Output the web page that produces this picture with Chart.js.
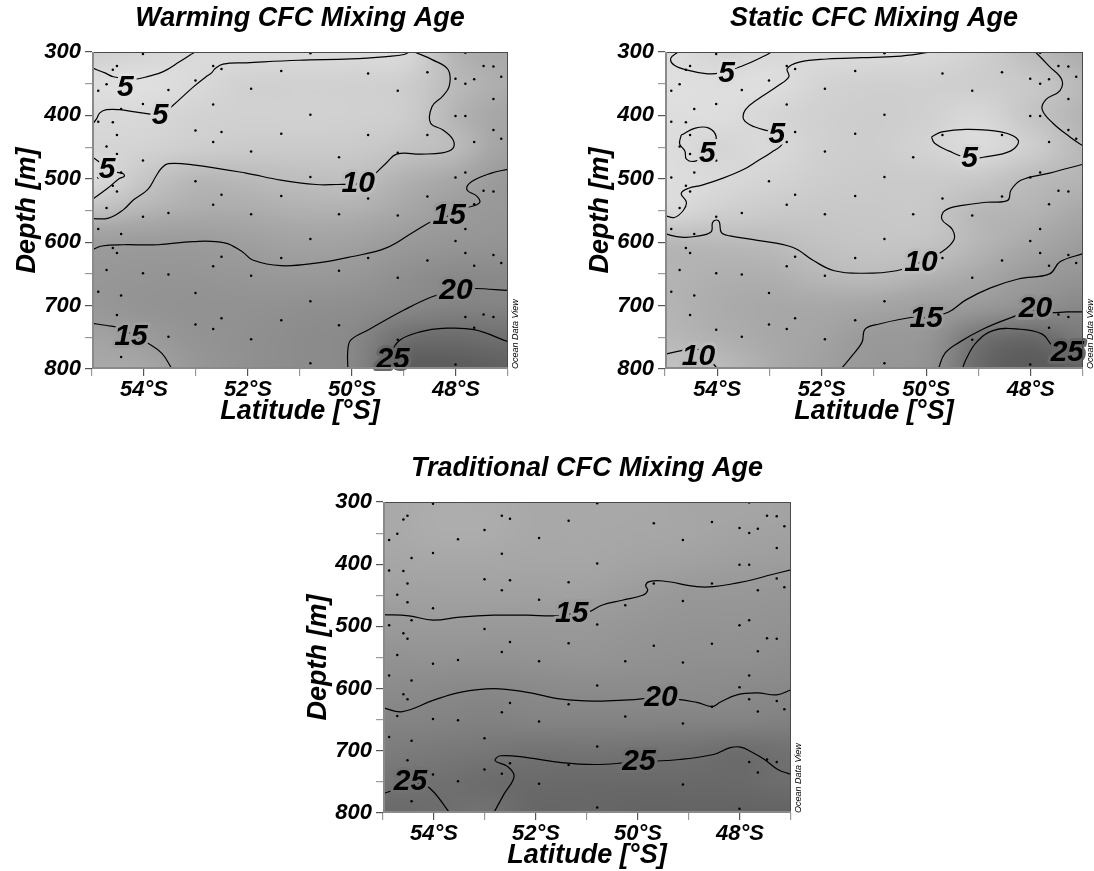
<!DOCTYPE html>
<html><head><meta charset="utf-8">
<script src="https://cdn.jsdelivr.net/npm/chart.js@4.4.1/dist/chart.umd.min.js"></script>
<style>
html,body{margin:0;padding:0;background:#fff;overflow:hidden;width:1094px;height:871px;}
.panel{position:absolute;}
canvas{display:block;}
</style></head><body>
<div class="panel" style="left:0px;top:0px;"><canvas id="c1" width="547" height="435"></canvas></div>
<div class="panel" style="left:573px;top:0px;"><canvas id="c2" width="521" height="435"></canvas></div>
<div class="panel" style="left:291px;top:450px;"><canvas id="c3" width="530" height="429"></canvas></div>
<script>
// ---------- axes ----------
const latTicks = [47, 48, 49, 50, 51, 52, 53, 54, 55];
const depthTicks = [300, 350, 400, 450, 500, 550, 600, 650, 700, 750, 800];

// ---------- shading grid nodes (lat 55..47, depth 300..800) ----------
const gridLat = [55, 54, 53, 52, 51, 50, 49, 48, 47];
const gridDepth = [300, 350, 400, 450, 500, 550, 600, 650, 700, 750, 800];

const warmingAge = [
  [6.5, 5.6, 4.6, 4.5, 4.5, 4.6, 4.9, 11.0, 12.5],
  [4.0, 3.6, 4.8, 6.3, 6.3, 6.4, 7.0, 10.3, 12.0],
  [4.8, 5.0, 6.0, 6.4, 6.3, 6.5, 7.2, 11.0, 13.0],
  [5.5, 6.0, 7.0, 7.5, 7.5, 7.6, 8.8, 10.3, 13.5],
  [4.5, 8.3, 10.5, 10.3, 9.7, 9.6, 11.3, 12.8, 15.5],
  [9.5, 11.0, 12.0, 12.0, 11.5, 11.5, 12.8, 14.9, 16.0],
  [14.5, 14.9, 15.0, 14.2, 13.5, 13.8, 15.3, 16.5, 17.0],
  [16.0, 16.5, 16.5, 16.0, 15.5, 16.0, 18.0, 19.4, 19.4],
  [16.0, 17.0, 17.5, 17.5, 18.0, 18.5, 19.8, 21.0, 21.0],
  [13.5, 15.0, 17.0, 18.0, 19.0, 20.0, 24.8, 25.5, 24.8],
  [12.5, 12.8, 16.0, 18.0, 19.0, 20.3, 28.0, 28.5, 27.5]
];
const staticAge = [
  [3.8, 5.6, 5.0, 4.5, 4.6, 4.8, 6.5, 9.8, 12.0],
  [3.5, 4.0, 3.8, 5.8, 6.5, 6.5, 7.0, 8.0, 10.5],
  [4.0, 4.0, 5.3, 6.5, 7.0, 6.5, 5.2, 8.5, 11.0],
  [4.0, 5.5, 4.8, 6.5, 7.0, 6.0, 4.5, 7.0, 10.5],
  [4.0, 4.8, 5.8, 7.0, 7.5, 7.5, 8.0, 10.0, 11.0],
  [4.7, 6.5, 7.5, 8.0, 8.0, 8.0, 10.5, 11.0, 12.5],
  [10.5, 10.3, 10.0, 9.0, 8.5, 8.8, 10.8, 12.5, 14.5],
  [11.0, 11.5, 11.5, 10.5, 10.0, 11.0, 12.5, 14.9, 16.5],
  [11.0, 12.0, 12.5, 12.5, 13.0, 14.0, 15.5, 18.0, 20.0],
  [10.5, 11.5, 12.5, 13.5, 15.5, 16.5, 24.0, 26.0, 23.0],
  [9.0, 10.0, 12.0, 14.0, 16.0, 17.5, 26.0, 29.0, 27.0]
];
const traditionalAge = [
  [12.5, 12.0, 12.0, 12.5, 12.5, 12.5, 13.0, 13.0, 13.5],
  [12.5, 12.0, 12.0, 12.5, 12.5, 12.8, 13.0, 13.5, 13.8],
  [13.0, 12.8, 12.8, 13.0, 13.0, 13.5, 14.0, 14.5, 14.8],
  [14.0, 14.0, 14.0, 14.0, 14.0, 15.0, 16.0, 16.0, 16.5],
  [15.5, 15.3, 15.5, 15.6, 15.7, 16.5, 17.0, 17.0, 17.5],
  [17.5, 17.3, 17.5, 17.3, 17.0, 17.5, 18.0, 18.0, 18.5],
  [19.2, 19.6, 20.0, 19.6, 19.2, 19.2, 19.2, 19.5, 20.0],
  [21.0, 21.0, 21.5, 21.0, 21.0, 21.0, 21.0, 21.0, 21.5],
  [22.5, 23.0, 23.5, 24.2, 24.0, 24.3, 24.5, 25.3, 24.5],
  [24.2, 24.6, 25.5, 25.8, 26.0, 26.0, 26.0, 26.0, 25.2],
  [26.0, 25.5, 24.5, 26.5, 26.5, 27.0, 27.0, 27.0, 27.0]
];

// ---------- sample stations ----------
const stationLat = [54.02,54.52,54.60,54.72,54.88,54.02,54.44,53.53,53.01,52.67,52.51,52.67,51.94,51.36,50.80,50.80,49.69,49.12,48.55,48.01,47.82,47.82,47.65,47.47,47.28,47.13,47.28,48.01,47.82,
  54.88,54.60,54.52,54.72,54.52,54.02,54.44,54.88,54.60,54.52,54.72,54.02,53.53,53.01,52.51,52.67,53.01,52.51,52.67,51.94,51.94,51.36,51.36,50.80,50.25,49.69,49.12,49.69,50.25,49.12,48.55,48.01,47.82,47.65,47.28,47.13,47.47,47.28,47.65,
  47.82,48.01,47.82,47.28,47.13,47.65,54.88,54.44,54.60,54.52,54.72,54.02,53.53,53.01,52.67,52.51,51.94,51.36,50.80,50.25,49.12,49.69,
  54.88,54.44,54.52,54.02,53.53,54.44,53.01,52.67,52.51,51.94,51.36,50.80,50.25,50.80,49.12,48.01,47.82,47.65,47.47,47.28,48.55,48.55];
const stationDepth = [303,322,328,351,361,382,390,360,345,322,327,383,358,330,302,399,334,361,332,342,301,350,343,322,323,339,374,401,401,
  410,411,431,449,461,471,490,498,511,520,546,560,554,424,426,442,504,525,541,457,556,429,527,497,466,431,459,531,556,558,528,498,490,442,423,437,519,520,540,
  579,598,617,620,633,637,579,587,609,617,644,649,651,680,638,623,653,625,595,645,656,625,
  678,684,715,738,749,781,730,737,720,753,723,693,731,791,754,793,718,735,714,718,431,629];

// ---------- contour lines [lat, depth] ----------
const warm5a = [[55,325],[54.75,333],[54.59,339],[54.21,343],[53.9,338],[53.63,331],[53.31,315],[53.1,304],[53.02,300]];
const warm5b = [[55,415],[54.91,405],[54.85,396],[54.72,391],[54.46,391],[54.21,394],[53.88,398],[53.69,400],[53.44,384],[53.05,355],[52.79,338],[52.7,333],[52.63,326],[52.48,319],[52.03,317],[51.03,313],[50.02,311],[49.3,307],[49.0,304],[48.9,300]];
const warm5c = [[55,465],[54.85,474],[54.7,484],[54.55,489],[54.4,492],[54.38,496],[54.48,500],[54.7,515],[55,533]];
const warm10 = [[48.8,300],[48.46,312],[48.15,328],[48.13,354],[48.26,370],[48.46,386],[48.49,412],[48.25,423],[48.06,438],[48.06,452],[48.26,459],[48.67,461],[49.14,461],[49.34,475],[49.58,494],[49.75,505],[49.88,508],[50.29,509],[50.69,509],[51.37,502],[52.04,491],[53.06,478],[53.53,476],[53.66,483],[53.77,496],[53.93,517],[54.2,533],[54.4,549],[54.68,562],[55,563]];
const warm15a = [[55,612],[54.81,606],[54.41,604],[53.73,604],[53.06,599],[52.45,601],[52.11,615],[51.91,628],[51.37,637],[50.69,633],[50.02,623],[49.34,609],[48.8,583],[48.46,567],[48.13,558],[47.79,546],[47.55,538],[47.59,528],[47.79,517],[47.69,504],[47.32,491],[47,485]];
const warm15b = [[55,728],[54.74,731],[54.41,736],[54.24,745],[53.93,759],[53.66,775],[53.46,800]];
const warm20 = [[50.08,800],[50.08,770],[50.02,754],[49.68,738],[49.0,707],[48.46,686],[47.99,675],[47.65,673],[47,676]];
const warm25 = [[49.5,800],[49.27,775],[49.07,754],[48.67,741],[48.26,736],[47.65,738],[47,757]];

const stat5a = [[54.75,300],[54.89,310],[54.82,321],[54.55,329],[54.22,334],[53.95,333],[53.49,321],[53.09,306],[52.96,300]];
const stat5b = [[49.9,300],[50.57,307],[51.23,309],[51.9,311],[52.43,316],[52.66,326],[52.63,339],[52.83,353],[53.23,375],[53.46,391],[53.49,407],[53.29,418],[52.96,426],[52.86,430],[52.76,445],[52.96,458],[53.23,472],[53.49,485],[53.89,499],[54.29,510],[54.55,515],[54.69,523],[54.59,537],[54.65,550],[54.82,561],[55,558]];
const stat5c = [[54.69,431],[54.42,420],[54.16,420],[54.02,434],[54.1,450],[54.19,460],[54.42,472],[54.59,469],[54.62,456],[54.72,445],[54.69,431]];
const stat5d = [[49.9,434],[49.7,426],[49.24,422],[48.57,426],[48.24,439],[48.38,456],[48.91,466],[49.17,468],[49.57,456],[49.84,444],[49.9,434]];
const stat10a = [[47.91,300],[47.64,323],[47.41,343],[47.44,361],[47.71,375],[47.78,391],[47.58,412],[47.25,434],[47,448]];
const stat10b = [[55,587],[54.69,592],[54.42,591],[54.12,584],[54.09,569],[54.02,565],[53.96,568],[53.92,585],[53.76,590],[53.23,597],[52.56,608],[52.16,629],[51.76,645],[51.23,649],[50.57,645],[50.1,631],[49.7,615],[49.47,596],[49.5,580],[49.7,564],[49.64,550],[49.31,542],[48.84,537],[48.44,534],[48.38,518],[48.18,502],[47.64,491],[47,477]];
const stat10c = [[55,777],[54.69,771],[54.42,768],[54.25,776],[54.16,784],[53.99,800]];
const stat15 = [[51.63,800],[51.43,780],[51.23,758],[51.17,737],[50.9,729],[50.24,718],[50.0,719],[49.57,710],[49.24,691],[48.77,672],[48.24,658],[47.64,650],[47.44,631],[47,618]];
const stat20 = [[49.77,800],[49.64,775],[49.37,758],[48.91,737],[48.44,721],[47.91,707],[47.64,711],[47.31,710],[47,710]];
const stat25 = [[49.31,800],[49.24,785],[49.04,758],[48.71,739],[48.24,737],[47.78,745],[47.58,764],[47.4,772]];

const trad15 = [[55,481],[54.49,483],[54.02,490],[53.49,485],[52.83,482],[52.17,482],[51.64,483],[51.3,480],[50.97,477],[50.71,466],[50.31,458],[49.91,450],[49.81,442],[49.85,434],[49.78,428],[49.51,427],[48.85,436],[48.52,436],[47.86,427],[47.39,417],[47,409]];
const trad20 = [[55,631],[54.62,637],[54.02,619],[53.49,606],[52.83,600],[52.17,606],[51.5,617],[50.84,620],[50.18,618],[49.55,615],[48.85,622],[48.55,629],[48.39,622],[48.06,610],[47.66,607],[47.28,610],[47,602]];
const trad25a = [[52.83,800],[52.63,770],[52.43,741],[52.56,725],[52.8,716],[52.7,708],[52.17,711],[51.5,719],[50.84,722],[50.18,719],[49.98,718],[49.18,714],[48.52,706],[48.19,695],[47.99,694],[47.79,701],[47.52,714],[47.26,730],[47,738]];
const trad25b = [[55,769],[54.69,760],[54.46,752],[54.22,754],[54.02,765],[53.69,800]];

// ---------- contour labels [lat, depth, text] ----------
const warmLabels = [[54.36,356,'5'],[53.69,401,'5'],[54.71,485,'5'],[49.88,508,'10'],[48.13,558,'15'],[54.25,749,'15'],[48.0,676,'20'],[49.21,786,'25']];
const statLabels = [[53.82,334,'5'],[54.19,460,'5'],[52.86,430,'5'],[49.17,469,'5'],[50.1,632,'10'],[54.36,780,'10'],[50.0,720,'15'],[47.91,705,'20'],[47.3,775,'25']];
const tradLabels = [[51.3,480,'15'],[49.55,614,'20'],[49.98,717,'25'],[54.46,749,'25']];

// ---------- gray colour ramp: [age, gray level] ----------
const shadeStops = [[0,236],[3,226],[5,216],[8,200],[10,188],[12.5,168],[15,155],[17.5,146],[20,136],[22.5,124],[25,111],[28,94],[30,88]];

const FONT = "'Liberation Sans', Arial, sans-serif";

function grayOf(v){
  if (v <= shadeStops[0][0]) return shadeStops[0][1];
  for (let k = 1; k < shadeStops.length; k++) {
    if (v <= shadeStops[k][0]) {
      const a = shadeStops[k-1], b = shadeStops[k];
      return a[1] + (b[1]-a[1])*(v-a[0])/(b[0]-a[0]);
    }
  }
  return shadeStops[shadeStops.length-1][1];
}
function cr(p0,p1,p2,p3,t){ return p1 + 0.5*t*(p2-p0 + t*(2*p0-5*p1+4*p2-p3 + t*(3*(p1-p2)+p3-p0))); }
function sampleGrid(grid, lat, depth){
  const nx = gridLat.length, ny = gridDepth.length;
  const fx = (gridLat[0]-lat)/(gridLat[0]-gridLat[1]);
  const fy = (depth-gridDepth[0])/(gridDepth[1]-gridDepth[0]);
  const cx = Math.max(0, Math.min(nx-1, fx)), cy = Math.max(0, Math.min(ny-1, fy));
  const ix = Math.min(nx-2, Math.floor(cx)), iy = Math.min(ny-2, Math.floor(cy));
  const tx = cx-ix, ty = cy-iy;
  const g = (i,j) => grid[Math.max(0,Math.min(ny-1,j))][Math.max(0,Math.min(nx-1,i))];
  const r = [];
  for (let m = -1; m <= 2; m++) r.push(cr(g(ix-1,iy+m), g(ix,iy+m), g(ix+1,iy+m), g(ix+2,iy+m), tx));
  return cr(r[0], r[1], r[2], r[3], ty);
}

function panelPlugin(grid, labels){
  return {
    id: 'panelDecor',
    beforeDatasetsDraw(chart){
      const a = chart.chartArea, ctx = chart.ctx, xs = chart.scales.x, ys = chart.scales.y;
      const L = Math.round(a.left), T = Math.round(a.top);
      const W = Math.round(a.right) - L, H = Math.round(a.bottom) - T;
      const img = ctx.createImageData(W, H);
      for (let j = 0; j < H; j++) {
        const d = ys.getValueForPixel(T + j + 0.5);
        for (let i = 0; i < W; i++) {
          const la = xs.getValueForPixel(L + i + 0.5);
          const gv = Math.round(grayOf(sampleGrid(grid, la, d)));
          const o = (j*W + i)*4;
          img.data[o] = gv; img.data[o+1] = gv; img.data[o+2] = gv; img.data[o+3] = 255;
        }
      }
      ctx.putImageData(img, L, T);
    },
    afterDatasetsDraw(chart){
      const a = chart.chartArea, ctx = chart.ctx, xs = chart.scales.x, ys = chart.scales.y;
      ctx.save();
      // contour labels
      ctx.font = 'italic bold 30px ' + FONT;
      ctx.textAlign = 'center';
      ctx.textBaseline = 'middle';
      ctx.lineJoin = 'round';
      labels.forEach(l => {
        const px = xs.getPixelForValue(l[0]), py = ys.getPixelForValue(l[1]);
        const gv = Math.round(grayOf(sampleGrid(grid, l[0], l[1])));
        ctx.strokeStyle = 'rgb(' + gv + ',' + gv + ',' + gv + ')';
        ctx.lineWidth = 6;
        ctx.strokeText(l[2], px, py);
        ctx.fillStyle = '#000';
        ctx.fillText(l[2], px, py);
      });
      // frame
      ctx.lineWidth = 1;
      ctx.strokeStyle = '#4a4a4a';
      ctx.beginPath();
      ctx.moveTo(a.left, a.top + 0.5); ctx.lineTo(a.right, a.top + 0.5);
      ctx.moveTo(a.right - 0.5, a.top); ctx.lineTo(a.right - 0.5, a.bottom);
      ctx.stroke();
      ctx.lineWidth = 2;
      ctx.strokeStyle = '#8a8a8a';
      ctx.beginPath();
      ctx.moveTo(a.left + 1, a.top); ctx.lineTo(a.left + 1, a.bottom);
      ctx.moveTo(a.left, a.bottom - 1); ctx.lineTo(a.right, a.bottom - 1);
      ctx.stroke();
      // watermark
      ctx.translate(a.right + 7, a.bottom);
      ctx.rotate(-Math.PI/2);
      ctx.font = 'italic 9px ' + FONT;
      ctx.textAlign = 'left';
      ctx.textBaseline = 'middle';
      ctx.fillStyle = '#000';
      ctx.fillText('Ocean Data View', 0, 0);
      ctx.restore();
    }
  };
}

function makeChart(id, titleText, grid, contours, labels, padRight){
  const datasets = contours.map(c => ({
    data: c.map(p => ({x: p[0], y: p[1]})),
    showLine: true, borderColor: '#000', borderWidth: 1.2,
    pointRadius: 0, tension: 0.4, fill: false
  }));
  datasets.push({
    data: stationLat.map((v, i) => ({x: v, y: stationDepth[i]})),
    showLine: false, pointRadius: 1.25, pointBackgroundColor: '#000', pointBorderWidth: 0
  });
  return new Chart(document.getElementById(id), {
    type: 'scatter',
    data: { datasets },
    plugins: [panelPlugin(grid, labels)],
    options: {
      responsive: false, animation: false, devicePixelRatio: 1,
      layout: { padding: { left: 0, right: padRight, top: 0, bottom: 0 } },
      plugins: {
        legend: { display: false }, tooltip: { enabled: false },
        title: {
          display: true, text: titleText, fullSize: false, color: '#000',
          font: { family: FONT, size: 27, weight: 'bold', style: 'italic', lineHeight: 1.2 },
          padding: { top: 2, bottom: 17.6 }
        }
      },
      scales: {
        x: {
          type: 'linear', min: latTicks[0], max: latTicks[latTicks.length-1], reverse: true,
          afterBuildTicks: s => { s.ticks = latTicks.map(v => ({value: v})); },
          afterFit: s => { s.height = 66; },
          ticks: {
            autoSkip: false, maxRotation: 0, color: '#000', padding: 1,
            font: { family: FONT, size: 22, weight: 'bold', style: 'italic' },
            callback: v => (v % 2 === 0 ? v + '°S' : '')
          },
          grid: { drawOnChartArea: false, drawTicks: true, tickLength: 7, lineWidth: 1.2,
                  color: c => (c.tick && c.tick.value % 2 === 0) ? '#555' : '#9a9a9a' },
          border: { display: false },
          title: { display: true, text: 'Latitude [°S]', color: '#000',
                   font: { family: FONT, size: 27, weight: 'bold', style: 'italic', lineHeight: 1.2 },
                   padding: { top: 0, bottom: 7 } }
        },
        y: {
          type: 'linear', min: depthTicks[0], max: depthTicks[depthTicks.length-1], reverse: true,
          afterBuildTicks: s => { s.ticks = depthTicks.map(v => ({value: v})); },
          afterFit: s => { s.width = 92; },
          ticks: {
            autoSkip: false, color: '#000', padding: 4,
            font: { family: FONT, size: 22, weight: 'bold', style: 'italic' },
            callback: v => (v % 100 === 0 ? String(v) : '')
          },
          grid: { drawOnChartArea: false, drawTicks: true, tickLength: 7, lineWidth: 1.2,
                  color: c => (c.tick && c.tick.value % 100 === 0) ? '#555' : '#9a9a9a' },
          border: { display: false },
          title: { display: true, text: 'Depth [m]', color: '#000',
                   font: { family: FONT, size: 27, weight: 'bold', style: 'italic', lineHeight: 1.2 },
                   padding: { top: 11, bottom: 0 } }
        }
      }
    }
  });
}

makeChart('c1', 'Warming CFC Mixing Age', warmingAge,
  [warm5a, warm5b, warm5c, warm10, warm15a, warm15b, warm20, warm25], warmLabels, 39);
makeChart('c2', 'Static CFC Mixing Age', staticAge,
  [stat5a, stat5b, stat5c, stat5d, stat10a, stat10b, stat10c, stat15, stat20, stat25], statLabels, 11);
makeChart('c3', 'Traditional CFC Mixing Age', traditionalAge,
  [trad15, trad20, trad25a, trad25b], tradLabels, 30);
</script>
</body></html>
